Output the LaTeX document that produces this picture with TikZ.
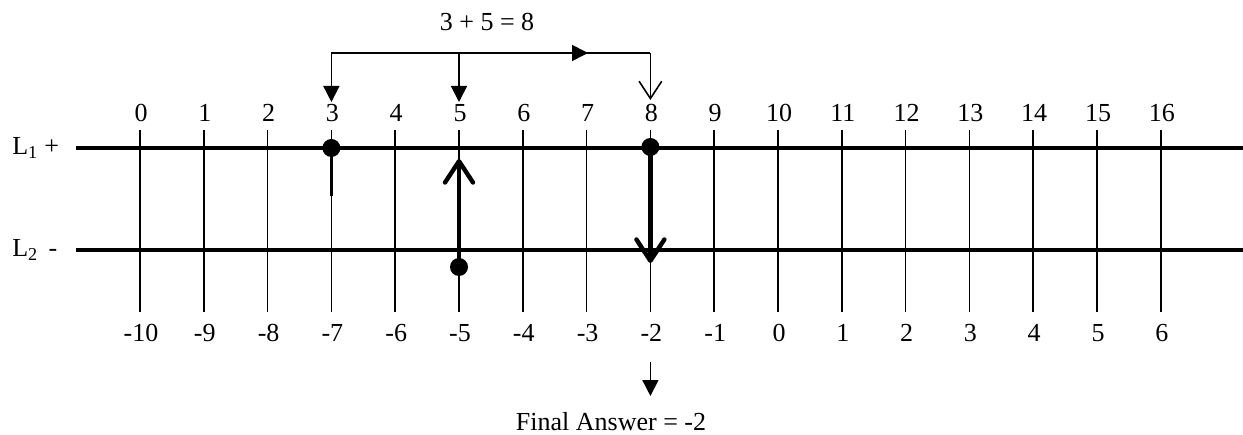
\documentclass[tikz,border=0pt]{standalone}
\usepackage{fontspec}
\setmainfont{Liberation Serif}
\usetikzlibrary{arrows.meta}
\begin{document}
\begin{tikzpicture}[x=0.75pt,y=-0.75pt,
  font=\fontsize{19.5}{22}\selectfont,
  thinline/.style={line width=1.2pt},
  axisline/.style={line width=2.4pt},
  boldarrow/.style={line width=3.3pt, -{Straight Barb[length=16pt,width=21pt,round]}},
  filltip/.style={-{Triangle[length=12pt,width=12pt]}},
  dot/.style={circle, fill, inner sep=0pt, minimum size=13.5pt},
  lbl/.style={inner sep=0pt}]
\useasboundingbox (0,0) rectangle (1243,435);
% main lines
\coordinate (l1s) at (76,148); \coordinate (l1e) at (1243,148);
\coordinate (l2s) at (76,250); \coordinate (l2e) at (1243,250);
\draw[axisline] (l1s) -- (l1e);
\draw[axisline] (l2s) -- (l2e);
\node[lbl, anchor=west] (L1) at (12,148) {L\textsubscript{1} +};
\node[lbl, anchor=west] (L2) at (12,250) {L\textsubscript{2}\, -};
% ticks and labels
\foreach \n in {0,...,16}{
  \pgfmathsetmacro\xx{140+63.8*\n}
  \pgfmathtruncatemacro\m{\n-10}
  \coordinate (ta\n) at (\xx,130);
  \coordinate (tb\n) at (\xx,312);
  \draw[thinline] (ta\n) -- (tb\n);
  \node[lbl] (t\n) at (\xx+1,113) {\n};
  \node[lbl] (b\n) at (\xx+1,333) {\m};
}
% top bracket
\node[lbl] (sum) at (487,22) {3 + 5 = 8};
\coordinate (br3) at (331.4,53);
\coordinate (br5) at (459,53);
\coordinate (br8) at (650.4,53);
\coordinate (mid) at (588,53);
\coordinate (a3) at (331.4,102);
\coordinate (a5) at (459,102);
\coordinate (a8) at (650.4,100);
\draw[thinline] (br3) -- (br8);
\draw[thinline, filltip] (br5) -- (mid);
\draw[thinline, filltip] (br3) -- (a3);
\draw[thinline, filltip] (br5) -- (a5);
\draw[thinline, -{Straight Barb[length=13pt,width=17pt]}] (br8) -- (a8);
% dots and bold arrows
\node[dot] (d3) at (331.4,148) {};
\node[dot] (d5) at (459,267) {};
\node[dot] (d8) at (650.4,147) {};
\coordinate (s3) at (331.4,196);
\coordinate (up5) at (459,159);
\coordinate (dn8) at (650.4,263);
\draw[line width=2.8pt] (d3.center) -- (s3);
\draw[boldarrow] (d5.center) -- (up5);
\draw[boldarrow] (d8.center) -- (dn8);
% final answer
\coordinate (fs) at (650.4,362);
\node[lbl] (fa) at (611,422) {Final Answer = -2};
\coordinate (fe) at (650.4,396);
\draw[thinline, filltip] (fs) -- (fe);
\end{tikzpicture}
\end{document}
